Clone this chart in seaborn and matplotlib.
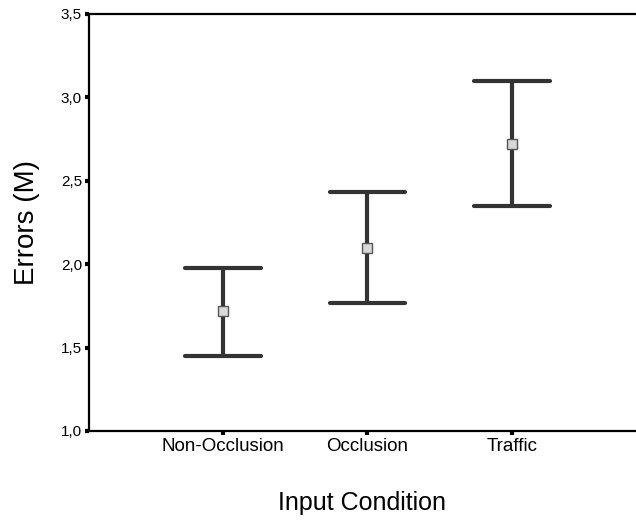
import numpy as np
import pandas as pd
import matplotlib
matplotlib.use("Agg")
import matplotlib.pyplot as plt
import seaborn as sns

# Mean errors with lower/upper interval bounds per input condition
conditions = ["Non-Occlusion", "Occlusion", "Traffic"]
lower = [1.45, 1.77, 2.35]
means = [1.72, 2.10, 2.72]
upper = [1.98, 2.43, 3.10]
y_ticks = [1.0, 1.5, 2.0, 2.5, 3.0, 3.5]
y_tick_labels = ["1,0", "1,5", "2,0", "2,5", "3,0", "3,5"]

rows = []
for c, lo, m, hi in zip(conditions, lower, means, upper):
    for v in (lo, m, hi):
        rows.append({"Input Condition": c, "Errors (M)": v})
df = pd.DataFrame(rows)

sns.set_theme(style="white")
plt.rcParams["font.family"] = ["Liberation Sans", "DejaVu Sans"]

fig = plt.figure(figsize=(6.36, 5.26), dpi=100)
ax = fig.add_axes([89 / 636, 1 - 431 / 526, 1 - 89 / 636, (431 - 14) / 526])

sns.pointplot(
    data=df, x="Input Condition", y="Errors (M)", order=conditions,
    estimator=np.median, errorbar=lambda v: (v.min(), v.max()),
    linestyle="none", capsize=0.52, color="#333333",
    err_kws={"linewidth": 3.0, "solid_capstyle": "round", "color": "#333333"},
    marker="s", markersize=6.5, markerfacecolor="#d8d8d8",
    markeredgecolor="#555555", markeredgewidth=1.0, ax=ax,
)
# draw markers above the error bars
for ln in ax.lines:
    if ln.get_marker() == "s":
        ln.set_zorder(5)

ax.set_xlim(-0.927, 2.858)
ax.set_ylim(1.0, 3.5)
ax.set_yticks(y_ticks)
ax.set_yticklabels(y_tick_labels)

for side in ("left", "top", "bottom"):
    ax.spines[side].set_visible(True)
    ax.spines[side].set_color("black")
    ax.spines[side].set_linewidth(1.6)
ax.spines["right"].set_visible(False)

ax.tick_params(axis="both", which="major", left=True, bottom=True,
               direction="out", length=3, width=3, color="black",
               labelcolor="black", pad=2)
ax.tick_params(axis="y", labelsize=11)
ax.tick_params(axis="x", labelsize=13.5)

ax.set_xlabel("Input Condition", fontsize=18, labelpad=26, color="black")
ax.set_ylabel("Errors (M)", fontsize=20, labelpad=15, color="black")

fig.savefig("out.png", dpi=100)
